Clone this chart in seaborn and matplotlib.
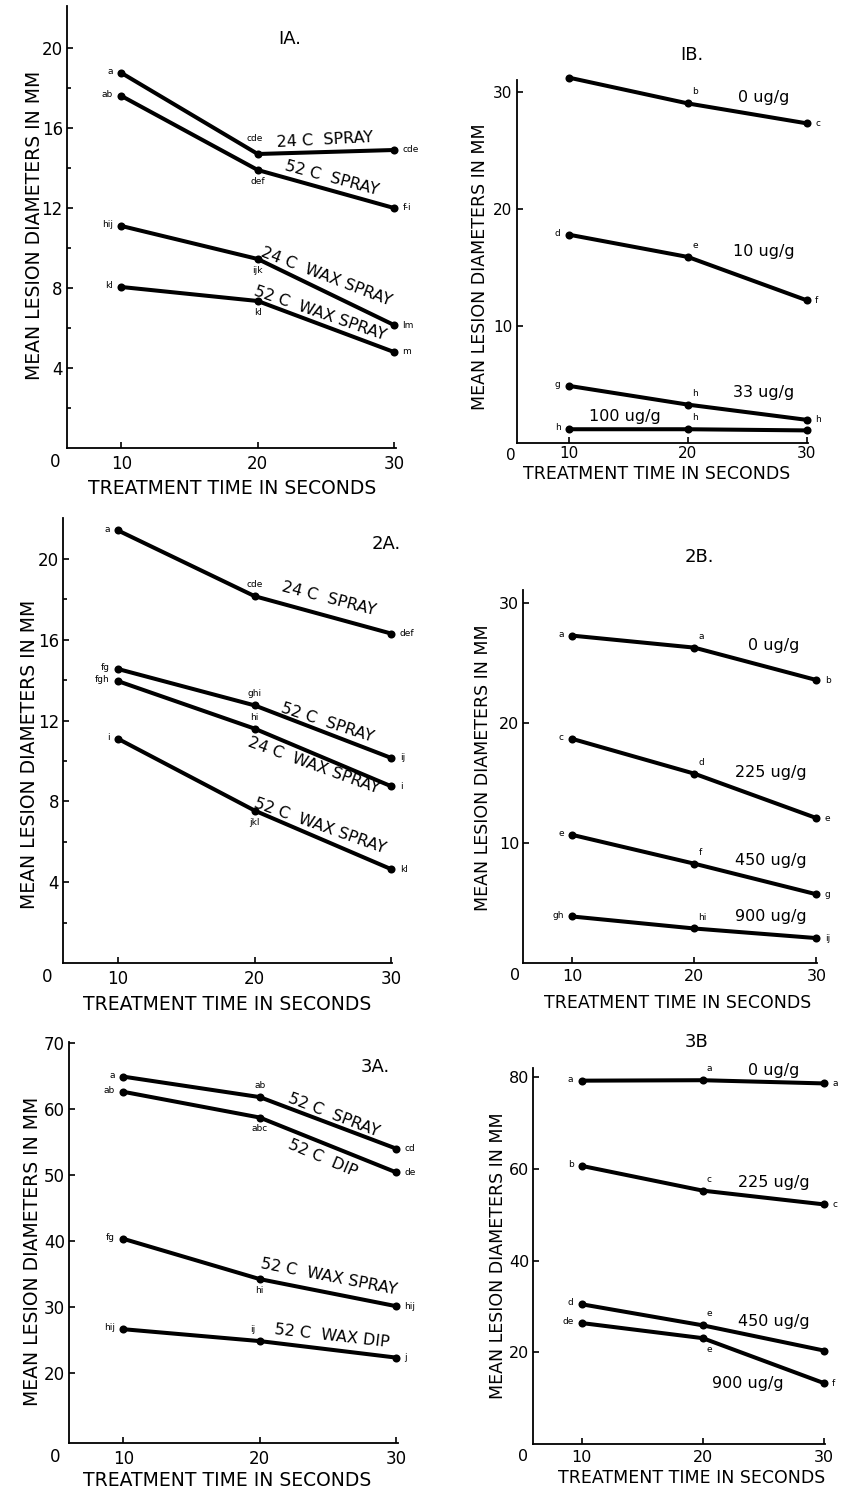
import seaborn as sns
import matplotlib.pyplot as plt

W, H = 842, 1495

times = [10, 20, 30]

# 1A - temperature / wax treatments
p1a_names = ['24 C  SPRAY', '52 C  SPRAY', '24 C  WAX SPRAY', '52 C  WAX SPRAY']
p1a_values = [[18.75, 14.7, 14.9], [17.6, 13.9, 12.0], [11.1, 9.45, 6.15], [8.05, 7.35, 4.8]]
p1a_letters = [['a', 'cde', 'cde'], ['ab', 'def', 'f-i'], ['hij', 'ijk', 'lm'], ['kl', 'kl', 'm']]

# 1B - dose series
p1b_names = ['0 ug/g', '10 ug/g', '33 ug/g', '100 ug/g']
p1b_values = [[31.2, 29.0, 27.3], [17.8, 15.9, 12.2], [4.9, 3.3, 2.0], [1.2, 1.2, 1.1]]
p1b_letters = [['a', 'b', 'c'], ['d', 'e', 'f'], ['g', 'h', 'h'], ['h', 'h', '']]

# 2A
p2a_names = ['24 C  SPRAY', '52 C  SPRAY', '24 C  WAX SPRAY', '52 C  WAX SPRAY']
p2a_values = [[21.4, 18.15, 16.3], [14.55, 12.75, 10.15], [13.95, 11.6, 8.75], [11.1, 7.55, 4.65]]
p2a_letters = [['a', 'cde', 'def'], ['fg', 'ghi', 'ij'], ['fgh', 'hi', 'i'], ['i', 'jkl', 'kl']]

# 2B
p2b_names = ['0 ug/g', '225 ug/g', '450 ug/g', '900 ug/g']
p2b_values = [[27.3, 26.3, 23.6], [18.7, 15.8, 12.1], [10.7, 8.3, 5.75], [3.9, 2.9, 2.1]]
p2b_letters = [['a', 'a', 'b'], ['c', 'd', 'e'], ['e', 'f', 'g'], ['gh', 'hi', 'ij']]

# 3A
p3a_names = ['52 C  SPRAY', '52 C  DIP', '52 C  WAX SPRAY', '52 C  WAX DIP']
p3a_values = [[64.9, 61.8, 54.0], [62.6, 58.7, 50.4], [40.3, 34.2, 30.1], [26.6, 24.8, 22.3]]
p3a_letters = [['a', 'ab', 'cd'], ['ab', 'abc', 'de'], ['fg', 'hi', 'hij'], ['hij', 'ij', 'j']]

# 3B
p3b_names = ['0 ug/g', '225 ug/g', '450 ug/g', '900 ug/g']
p3b_values = [[79.3, 79.4, 78.7], [60.7, 55.3, 52.3], [30.5, 25.9, 20.4], [26.4, 23.1, 13.3]]
p3b_letters = [['a', 'a', 'a'], ['b', 'c', 'c'], ['d', 'e', ''], ['de', 'e', 'f']]

panels = [
    dict(title='IA.', names=p1a_names, values=p1a_values, letters=p1a_letters,
         box=(67, 6, 396, 448), xlim=(6, 30.15), ylim=(0, 22.1),
         yticks=[4, 8, 12, 16, 20], minor=[2, 6, 10, 14, 18],
         title_xy=(290, 39), ylab_xy=(35, 225), xlab_xy=(232.5, 488), lab_size=13.5,
         tick_size=12, xpad=5, zero_dx=-12,
         mid=['uu', 'd', 'd', 'd'],
         name_pos=[(24.9, 15.4, 3), (25.4, 13.5, -15), (25.0, 8.55, -21), (24.6, 6.75, -19)]),
    dict(title='IB.', names=p1b_names, values=p1b_values, letters=p1b_letters,
         box=(516.7, 80, 808, 443.3), xlim=(5.6, 30.1), ylim=(0, 31.0),
         yticks=[10, 20, 30], minor=[],
         title_xy=(691.7, 55), ylab_xy=(480, 267), xlab_xy=(656.7, 474), lab_size=12.5,
         tick_size=11, xpad=2, zero_dx=-6,
         mid=['ur', 'ur', 'ur', 'ur'],
         name_pos=[(26.4, 29.5, 0), (26.4, 16.35, 0), (26.4, 4.3, 0), (14.7, 2.3, 0)]),
    dict(title='2A.', names=p2a_names, values=p2a_values, letters=p2a_letters,
         box=(63.3, 518.3, 392, 963.3), xlim=(6, 30.05), ylim=(0, 22.0),
         yticks=[4, 8, 12, 16, 20], minor=[2, 6, 10, 14, 18],
         title_xy=(386.7, 544), ylab_xy=(30, 754), xlab_xy=(226.7, 1005), lab_size=13.5,
         tick_size=12, xpad=5, zero_dx=-16,
         mid=['u', 'u', 'u', 'd'],
         name_pos=[(25.4, 18.0, -14.5), (25.3, 11.9, -18), (24.3, 9.77, -20), (24.8, 6.8, -19.5)]),
    dict(title='2B.', names=p2b_names, values=p2b_values, letters=p2b_letters,
         box=(523.3, 590, 817, 963.3), xlim=(6, 30.05), ylim=(0, 31.1),
         yticks=[10, 20, 30], minor=[],
         title_xy=(699.3, 556.7), ylab_xy=(483.3, 767.5), xlab_xy=(678, 1003.3), lab_size=12.5,
         tick_size=11.5, xpad=4, zero_dx=-8,
         mid=['ur', 'ur', 'ur', 'ur'],
         name_pos=[(26.5, 26.5, 0), (26.3, 15.9, 0), (26.3, 8.55, 0), (26.3, 3.94, 0)]),
    dict(title='3A.', names=p3a_names, values=p3a_values, letters=p3a_letters,
         box=(69, 1041.7, 398, 1443.3), xlim=(6, 30.15), ylim=(9.3, 70.2),
         yticks=[20, 30, 40, 50, 60, 70], minor=[],
         title_xy=(375, 1067.3), ylab_xy=(33, 1251), xlab_xy=(227.5, 1480), lab_size=13.5,
         tick_size=12, xpad=5, zero_dx=-14,
         mid=['u', 'd', 'd', 'ul'],
         name_pos=[(25.4, 59.1, -21), (24.6, 52.6, -23), (25.1, 34.6, -11), (25.3, 25.5, -6.5)]),
    dict(title='3B', names=p3b_names, values=p3b_values, letters=p3b_letters,
         box=(533.3, 1068.3, 825, 1444), xlim=(6, 30.1), ylim=(0, 82),
         yticks=[20, 40, 60, 80], minor=[],
         title_xy=(696.7, 1041.7), ylab_xy=(498.3, 1256), xlab_xy=(691.7, 1478.3), lab_size=12.5,
         tick_size=11.5, xpad=4, zero_dx=-10,
         mid=['ur', 'ur', 'ur', 'dr'],
         name_pos=[(25.85, 81.6, 0), (25.85, 57.1, 0), (25.85, 26.75, 0), (23.7, 13.3, 0)]),
]

sns.set_style('ticks')
plt.rcParams['font.family'] = ['DejaVu Sans']
plt.rcParams['text.color'] = 'black'
plt.rcParams['axes.labelcolor'] = 'black'

fig = plt.figure(figsize=(W / 100, H / 100), dpi=100)
fig.patch.set_facecolor('white')

mid_offsets = {
    'u': ((0, 5), 'center', 'bottom'),
    'uu': ((-2, 8), 'center', 'bottom'),
    'd': ((0, -5), 'center', 'top'),
    'ul': ((-3, 5), 'right', 'bottom'),
    'ur': ((3, 5), 'left', 'bottom'),
    'dr': ((3, -5), 'left', 'top'),
}

for p in panels:
    l, t, r, b = p['box']
    ax = fig.add_axes([l / W, 1 - b / H, (r - l) / W, (b - t) / H])

    for vals in p['values']:
        sns.lineplot(x=times, y=vals, ax=ax, color='black', linewidth=2.9,
                     marker='o', markersize=5.8, markeredgewidth=0, clip_on=False)

    for i, vals in enumerate(p['values']):
        labs = p['letters'][i]
        ax.annotate(labs[0], (times[0], vals[0]), xytext=(-6, 1), textcoords='offset points',
                    ha='right', va='center', fontsize=6.5)
        off, ha, va = mid_offsets[p['mid'][i]]
        ax.annotate(labs[1], (times[1], vals[1]), xytext=off, textcoords='offset points',
                    ha=ha, va=va, fontsize=6.5)
        ax.annotate(labs[2], (times[2], vals[2]), xytext=(6, 0), textcoords='offset points',
                    ha='left', va='center', fontsize=6.5, annotation_clip=False)
        nx, ny, rot = p['name_pos'][i]
        ax.text(nx, ny, p['names'][i], rotation=rot, ha='center', va='center',
                fontsize=11.5, rotation_mode='anchor', clip_on=False)

    ax.set_xlim(*p['xlim'])
    ax.set_ylim(*p['ylim'])
    ax.set_xticks(times)
    ax.set_xticklabels(['10', '20', '30'])
    ax.set_yticks(p['yticks'])
    ax.set_yticks(p['minor'], minor=True)
    ax.tick_params(axis='both', which='both', direction='in', length=4, width=1.2,
                   labelsize=p['tick_size'], pad=3, colors='black')
    ax.tick_params(axis='y', which='minor', length=3)
    ax.tick_params(axis='x', pad=p['xpad'])
    sns.despine(ax=ax)
    for s in ['left', 'bottom']:
        ax.spines[s].set_linewidth(1.3)
        ax.spines[s].set_color('black')
    ax.set_facecolor('white')

    ax.annotate('0', (0, 0), xycoords='axes fraction', xytext=(p['zero_dx'], -5),
                textcoords='offset pixels', ha='center', va='top', fontsize=p['tick_size'])

    # axis labels
    ax.set_xlabel('TREATMENT TIME IN SECONDS', fontsize=p['lab_size'])
    ax.set_ylabel('MEAN LESION DIAMETERS IN MM', fontsize=p['lab_size'])
    cx, cy = p['xlab_xy']
    ax.xaxis.set_label_coords((cx - l) / (r - l), (b - cy) / (b - t))
    ax.xaxis.label.set_va('center')
    cx, cy = p['ylab_xy']
    ax.yaxis.set_label_coords((cx - l) / (r - l), (b - cy) / (b - t))
    ax.yaxis.label.set_va('center')

    tx, ty = p['title_xy']
    fig.text(tx / W, 1 - ty / H, p['title'], ha='center', va='center', fontsize=13)

fig.savefig('out.png', dpi=100, facecolor='white')
